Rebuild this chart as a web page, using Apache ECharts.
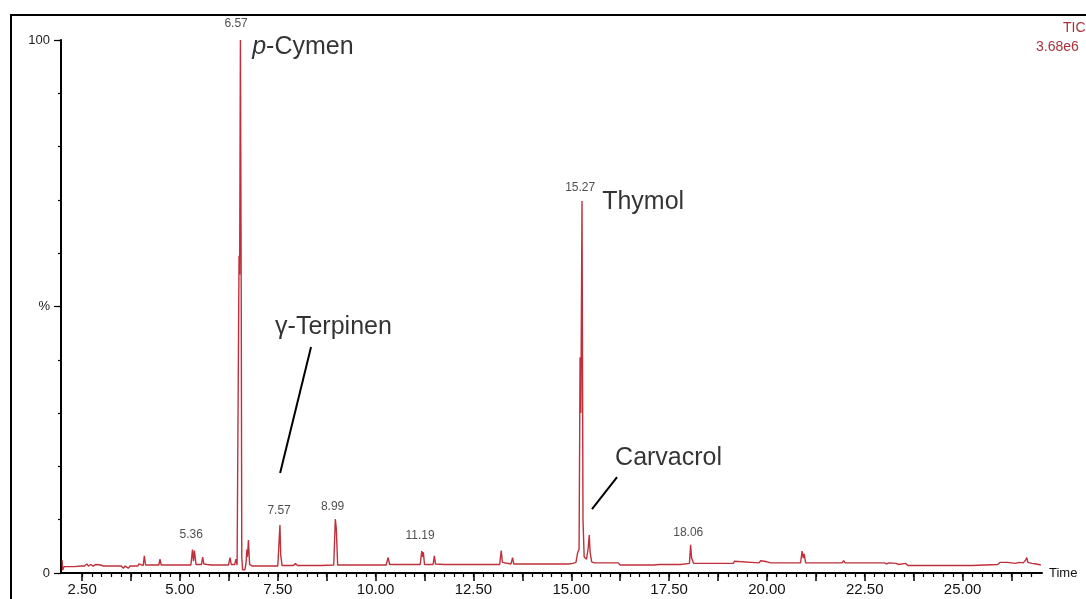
<!DOCTYPE html>
<html>
<head>
<meta charset="utf-8">
<script src="https://cdn.jsdelivr.net/npm/echarts@6/dist/echarts.min.js"></script>
<style>
html,body{margin:0;padding:0;background:#fff;}
#chart{width:1086px;height:599px;}
</style>
</head>
<body>
<div id="chart"></div>
<script>
// Retention time (min) vs relative abundance (%)
var traceStart = [[1.99,2.4],[2.00,0.5],[2.04,1.2],[2.30,1.2],[2.48,1.3],[2.52,1.6],[2.56,1.3],[2.62,1.7],[2.66,1.3],[2.72,1.6],[2.78,1.3],[2.85,1.6],[2.90,1.3],[2.98,1.5],[3.04,1.3],[3.50,1.3],[3.55,0.9],[3.60,1.3],[3.68,0.9],[3.73,1.3],[3.92,1.3],[3.95,1.7],[3.98,1.4],[4.06,1.4],[4.09,3.2],[4.12,1.5],[4.46,1.5],[4.49,2.6],[4.52,1.5],[5.28,1.5],[5.32,4.4],[5.345,2.2],[5.37,4.2],[5.41,1.6],[5.55,1.6],[5.58,3.0],[5.61,1.7],[5.70,1.6],[5.75,1.9],[5.80,1.5],[6.24,1.5],[6.28,2.9],[6.31,1.6],[6.40,1.6],[6.43,2.6],[6.46,1.5],[6.49,1.5]];
var traceCymen = [[6.51,59.5],[6.525,56],[6.545,100],[6.565,54.6],[6.58,3],[6.60,0.6],[6.66,0.6],[6.69,2.0],[6.71,4.4],[6.725,3.0],[6.75,6.2],[6.78,1.6],[6.85,1.3],[7.50,1.3],[7.555,9.0],[7.575,3.4],[7.61,1.4],[7.90,1.4],[7.95,1.8],[8.00,1.4],[8.50,1.4],[8.55,1.7],[8.60,1.4],[8.93,1.5],[8.97,10.1],[8.995,8.4],[9.03,1.5],[10.27,1.5],[10.32,2.9],[10.36,1.6]];
var traceMid = [[11.14,1.6],[11.18,4.1],[11.20,3.0],[11.22,3.9],[11.25,1.6],[11.47,1.6],[11.50,3.2],[11.53,1.7],[11.75,1.6],[11.80,1.9],[11.85,1.6],[12.05,1.6],[12.10,1.9],[12.15,1.6],[13.17,1.6],[13.21,4.2],[13.24,2.0],[13.25,1.7],[13.46,1.7],[13.50,2.9],[13.53,1.7],[14.94,1.7],[14.99,1.9],[15.04,1.8],[15.12,2.0]];
var traceThymol = [[15.16,3.7],[15.20,4.5],[15.225,40.5],[15.245,30],[15.275,69.8],[15.30,10],[15.33,3.0],[15.39,2.6],[15.43,4.5],[15.46,7.1],[15.48,4.0],[15.52,2.1],[15.60,1.9],[16.20,1.9]];
var traceEnd = [[16.25,1.5],[16.60,1.5],[16.65,1.8],[16.70,1.5],[17.00,1.5],[17.05,1.8],[17.10,1.5],[17.25,1.6],[17.30,1.8],[17.40,1.6],[17.80,1.6],[17.85,1.8],[18.02,1.8],[18.05,5.3],[18.075,2.8],[18.09,3.1],[18.13,1.8],[18.40,1.8],[19.14,1.8],[19.17,2.2],[19.20,1.9],[19.80,1.9],[19.84,2.3],[19.88,2.0],[19.93,2.2],[19.98,1.9],[20.00,2.1],[20.10,1.9],[20.86,1.9],[20.90,4.1],[20.93,2.8],[20.95,3.6],[20.99,1.9],[21.92,1.9],[21.96,2.3],[22.00,1.9],[22.10,1.9],[22.13,2.2],[22.17,1.9],[22.30,1.9],[22.34,2.1],[22.38,1.9],[23.00,1.9],[23.06,1.7],[23.12,1.9],[23.30,1.8],[23.36,1.6],[23.40,1.8],[23.55,1.8],[23.60,1.4],[24.00,1.4],[24.04,1.6],[24.08,1.4],[24.90,1.4],[24.94,1.6],[24.98,1.4],[25.25,1.4],[25.30,1.6],[25.90,1.6],[25.96,2.0],[26.15,2.0],[26.20,1.8],[26.35,1.8],[26.45,2.0],[26.55,1.9],[26.61,2.4],[26.64,2.9],[26.67,2.0],[26.72,2.2],[26.77,1.8],[26.82,2.1],[26.88,1.7],[26.95,1.6],[27.0,1.5]];

// peak retention-time labels [x, y, text]
var peakLabels = [[6.435,103.0,'6.57'],[15.227,72.2,'15.27'],[5.286,7.13,'5.36'],[7.534,11.63,'7.57'],[8.90,12.38,'8.99'],[11.138,6.94,'11.19'],[17.99,7.5,'18.06']];
// compound annotations [x, y, text] (left-middle anchor)
var compoundLabels = [[6.845,98.7,'{i|p}-Cymen'],[15.789,69.6,'Thymol'],[7.432,46.06,'γ-Terpinen'],[16.12,21.6,'Carvacrol']];
// leader lines
var leaderLines = [[[8.35,42.4],[7.56,18.76]],[[16.17,18.0],[15.53,12.0]]];

var xMajorTicks = [2.5,3.75,5,6.25,7.5,8.75,10,11.25,12.5,13.75,15,16.25,17.5,18.75,20,21.25,22.5,23.75,25,26.25];
var xTickLabels = [2.5,5,7.5,10,12.5,15,17.5,20,22.5,25];
var yTickLabels = [0,50,100];
var yTickText = {0:'0',50:'%',100:'100'};
var xMinorTicks = [];
for (var t = 2.5; t <= 26.76; t += 0.25) xMinorTicks.push(+t.toFixed(2));

var trace = [].concat(traceStart, traceCymen, traceMid, traceThymol, traceEnd);

var FONT = "'Liberation Sans', Arial, sans-serif";
var chart = echarts.init(document.getElementById('chart'), null, {renderer:'canvas'});
chart.setOption({
  animation:false,
  backgroundColor:'#fff',
  grid:{left:61,right:44,top:40,bottom:26,containLabel:false},
  xAxis:[{
    type:'value',min:1.96,max:27.03,
    axisLine:{show:true,lineStyle:{color:'#000',width:2}},
    axisTick:{show:true,customValues:xMajorTicks,length:8,lineStyle:{color:'#000',width:1.5}},
    axisLabel:{show:true,customValues:xTickLabels,formatter:function(v){return v.toFixed(2);},color:'#111',fontSize:15,fontFamily:FONT,margin:9},
    splitLine:{show:false},
    name:'Time',nameLocation:'end',nameGap:7,nameTextStyle:{color:'#111',fontSize:13,fontFamily:FONT,verticalAlign:'middle'}
  },{
    type:'value',min:1.96,max:27.03,position:'bottom',
    axisLine:{show:false},
    axisTick:{show:true,customValues:xMinorTicks,length:4,lineStyle:{color:'#000',width:1.2}},
    axisLabel:{show:false},splitLine:{show:false}
  }],
  yAxis:[{
    type:'value',min:0,max:100,interval:10,position:'left',
    axisLine:{show:true,lineStyle:{color:'#000',width:2}},
    axisTick:{show:true,length:3,lineStyle:{color:'#000',width:1.2}},
    axisLabel:{show:false},splitLine:{show:false}
  },{
    type:'value',min:0,max:100,position:'left',offset:0,
    axisLine:{show:false},
    axisTick:{show:true,customValues:yTickLabels,length:7,lineStyle:{color:'#000',width:1.2}},
    axisLabel:{show:true,customValues:yTickLabels,formatter:function(v){return yTickText[v];},color:'#222',fontSize:13,fontFamily:FONT,margin:11},
    splitLine:{show:false}
  }],
  series:[{
    type:'line',data:trace,showSymbol:false,symbol:'none',clip:false,
    lineStyle:{color:'#c0303a',width:1.4},
    markLine:{
      silent:true,symbol:['none','none'],label:{show:false},
      lineStyle:{color:'#000',width:2,type:'solid'},
      data:leaderLines.map(function(l){return [{coord:l[0]},{coord:l[1]}];})
    }
  },{
    type:'scatter',data:peakLabels,symbolSize:0,clip:false,silent:true,
    label:{show:true,position:[0,0],align:'center',verticalAlign:'middle',
      formatter:function(p){return p.data[2];},color:'#222',fontSize:12,fontFamily:FONT}
  },{
    type:'scatter',data:compoundLabels,symbolSize:0,clip:false,silent:true,
    label:{show:true,position:[0,0],align:'left',verticalAlign:'middle',
      formatter:function(p){return p.data[2];},color:'#000',fontSize:25,fontFamily:FONT,
      rich:{i:{fontStyle:'italic',fontSize:25,fontFamily:FONT,color:'#000'}}}
  }],
  graphic:[
    {type:'rect',shape:{x:11,y:15,width:1090,height:600},style:{fill:'none',stroke:'#000',lineWidth:2},silent:true},
    {type:'text',x:1063,y:28,style:{text:'TIC',fill:'#a8323c',font:"14px "+FONT,textVerticalAlign:'middle'}},
    {type:'text',x:1036,y:47,style:{text:'3.68e6',fill:'#a8323c',font:"14px "+FONT,textVerticalAlign:'middle'}}
  ]
});
</script>
</body>
</html>
